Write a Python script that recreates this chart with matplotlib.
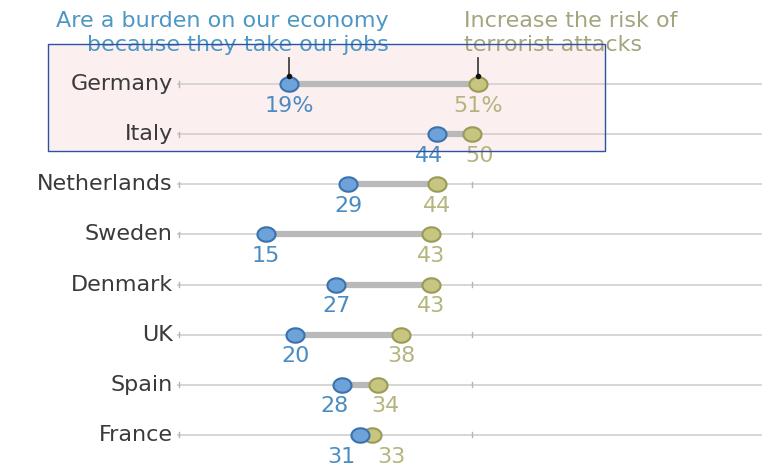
import numpy as np
import matplotlib.pyplot as plt
from matplotlib.patches import Rectangle
from matplotlib.path import Path

countries = ['Germany', 'Italy', 'Netherlands', 'Sweden', 'Denmark', 'UK', 'Spain', 'France']
jobs = [19, 44, 29, 15, 27, 20, 28, 31]
terror = [51, 50, 44, 43, 43, 38, 34, 33]
jobs_labels = ['19%', '44', '29', '15', '27', '20', '28', '31']
terror_labels = ['51%', '50', '44', '43', '43', '38', '34', '33']

blue_fill, blue_edge, blue_text = '#6ea3da', '#3a72ae', '#4a8cc2'
olive_fill, olive_edge, olive_text = '#c6c680', '#9a9a58', '#b4b47e'

W, H = 762, 467
fig = plt.figure(figsize=(W / 100, H / 100), dpi=100)
fig.patch.set_facecolor('white')

# the source picture is a bit stretched sideways, so the dots are ellipses
th = np.linspace(0, 2 * np.pi, 60)
oval = Path(np.column_stack([1.25 * np.cos(th), np.sin(th)]), closed=True)

x0 = 177
px_per = 5.906
ax = fig.add_axes([x0 / W, 0, 1 - x0 / W, 1])
ax.set_xlim(0, (W - x0) / px_per)
row0, step = 84, 50.14
ax.set_ylim((H - row0) / step, -row0 / step)
ax.axis('off')

fs = 16
min_sep = 8.5  # labels of close dots get pushed apart
for i, c in enumerate(countries):
    a, b = jobs[i], terror[i]
    ax.plot([0, 110], [i, i], color='#cfcfcf', lw=1.2, zorder=1, solid_capstyle='butt')
    for t in (0.3, 50):
        ax.plot([t, t], [i - 0.05, i + 0.05], color='#b5b5b5', lw=1.0, zorder=1)
    ax.plot([a, b], [i, i], color='#b9b9b9', lw=4.5, zorder=2, solid_capstyle='butt')
    ax.plot(a, i, marker=oval, ms=13, mfc=blue_fill, mec=blue_edge, mew=1.5,
            ls='none', zorder=4)
    ax.plot(b, i, marker=oval, ms=13, mfc=olive_fill, mec=olive_edge, mew=1.5,
            ls='none', zorder=3)
    la, lb = a, b
    if b - a < min_sep:
        mid = (a + b) / 2
        la, lb = mid - min_sep / 2, mid + min_sep / 2
    ax.text(la, i + 0.43, jobs_labels[i], ha='center', va='center',
            color=blue_text, fontsize=fs)
    ax.text(lb, i + 0.43, terror_labels[i], ha='center', va='center',
            color=olive_text, fontsize=fs)
    ax.text(-0.7, i, c, ha='right', va='center', color='#3a3a3a', fontsize=fs)

# leader lines for Germany
for v in (jobs[0], terror[0]):
    ax.plot([v, v], [-0.52, -0.15], color='#333333', lw=1.2, zorder=5)
    ax.plot(v, -0.15, 'o', ms=3, color='#111111', zorder=5)

# headers
fig.text(389 / W, 1 - 33 / H, 'Are a burden on our economy\nbecause they take our jobs',
         ha='right', va='center', color='#4d97c4', fontsize=fs, linespacing=1.25)
fig.text(464 / W, 1 - 33 / H, 'Increase the risk of\nterrorist attacks',
         ha='left', va='center', color='#a4a47e', fontsize=fs, linespacing=1.25)

# overlay box: fill behind, outline on top
box = ((48 / W, 1 - 151 / H), (605 - 48) / W, 107 / H)
fig.patches.append(Rectangle(box[0], box[1], box[2], transform=fig.transFigure,
                             facecolor='#fcefef', edgecolor='none', zorder=-5))
fig.patches.append(Rectangle(box[0], box[1], box[2], transform=fig.transFigure,
                             facecolor='none', edgecolor='#2c52a4', lw=1.0, zorder=10))

fig.savefig('out.png', dpi=100)
